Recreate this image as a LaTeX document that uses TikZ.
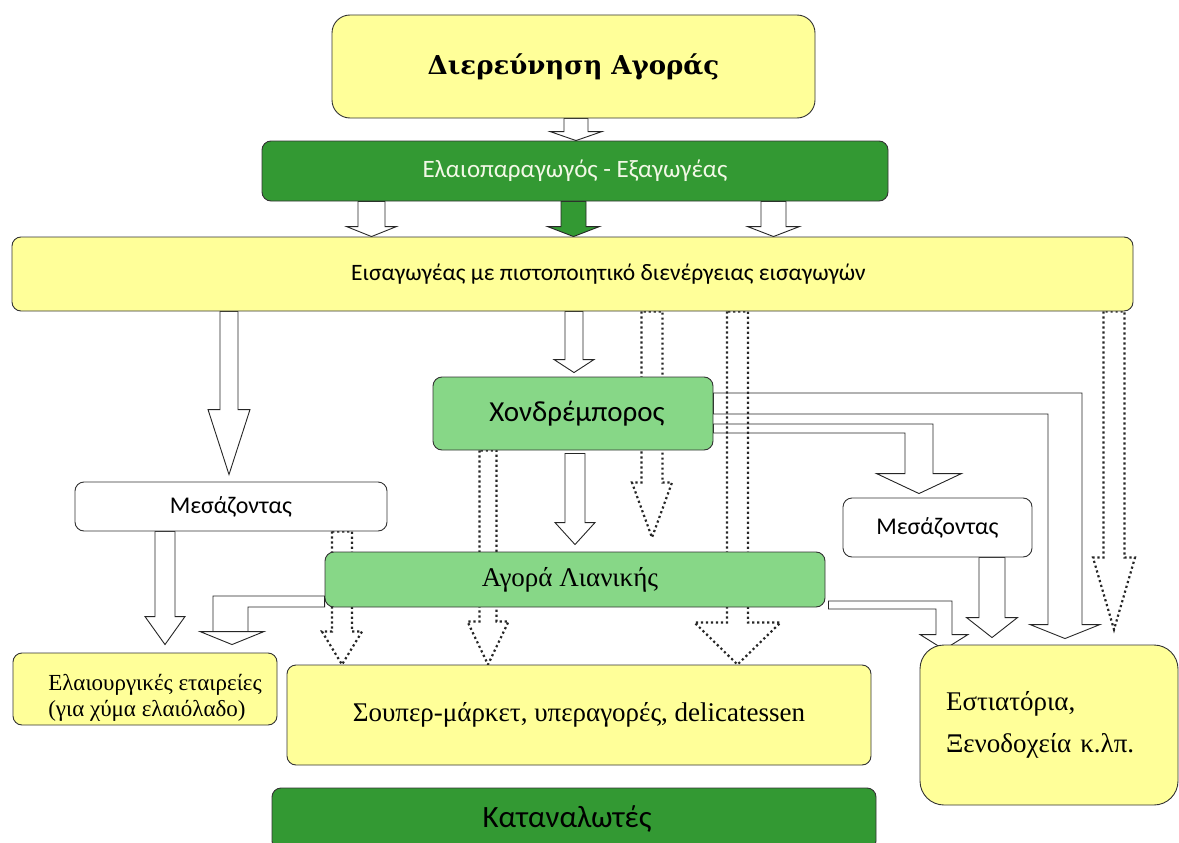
\documentclass[tikz,border=0pt]{standalone}
\usepackage{fontspec}
\setmainfont{Liberation Serif}
\newfontfamily\calib{Carlito}
\newfontfamily\headfont{DejaVu Serif}
\usetikzlibrary{calc}

\definecolor{lemon}{HTML}{FFFF99}
\definecolor{darkleaf}{HTML}{339933}
\definecolor{leaf}{HTML}{87D787}
\definecolor{paletext}{HTML}{F2F8E6}

\pgfdeclarelayer{bg}
\pgfsetlayers{bg,main}

\tikzset{
  box/.style={draw=black!80, line width=0.9pt, rounded corners=9pt, inner sep=0pt},
  ybox/.style={box, fill=lemon},
  dgbox/.style={box, fill=darkleaf},
  lgbox/.style={box, fill=leaf},
  wbox/.style={box, fill=white},
  blk/.style={draw=black!85, fill=white, line width=0.9pt},
  gblk/.style={blk, fill=darkleaf},
  dotblk/.style={draw=black!85, line width=2.2pt, dash pattern=on 2.2pt off 2.8pt}
}

% straight block arrow: from, to, shaft half width, head half width, head length
\newcommand{\blockdown}[6][blk]{%
  \path[#1] let \p1=#2, \p2=#3 in
    (\x1-#4pt,\y1) -- (\x1-#4pt,\y2+#6pt) -- (\x1-#5pt,\y2+#6pt) -- (\x1,\y2)
    -- (\x1+#5pt,\y2+#6pt) -- (\x1+#4pt,\y2+#6pt) -- (\x1+#4pt,\y1) -- cycle;}

% bent block arrow: from (top line), tip, shaft thickness, outer x, inner x, head half width, head length
\newcommand{\elbow}[7]{%
  \path[blk] let \p1=#1, \p2=#2 in
    (\x1,\y1) -- (\x2+#4pt,\y1) -- (\x2+#4pt,\y2+#7pt) -- (\x2+#6pt,\y2+#7pt) -- (\x2,\y2)
    -- (\x2-#6pt,\y2+#7pt) -- (\x2+#5pt,\y2+#7pt) -- (\x2+#5pt,\y1-#3pt) -- (\x1,\y1-#3pt) -- cycle;}

\begin{document}
\begin{tikzpicture}[x=1pt, y=-1pt]
  \useasboundingbox (0,0) rectangle (1179,843);

  % boxes
  \node (survey) [ybox, rounded corners=18pt, minimum width=483, minimum height=103,
    font=\headfont\bfseries\fontsize{26}{31}\selectfont] at (573.5,66.5) {Διερεύνηση Αγοράς};
  \node (grower) [dgbox, minimum width=626, minimum height=60, text=paletext,
    font=\calib\fontsize{25}{30}\selectfont] at (575,171) {Ελαιοπαραγωγός - Εξαγωγέας};
  \node (importer) [ybox, minimum width=1121, minimum height=74,
    font=\calib\fontsize{23.5}{28}\selectfont] at (572.5,274)
    {\hspace*{72pt}Εισαγωγέας με πιστοποιητικό διενέργειας εισαγωγών};
  \node (wholesaler) [lgbox, minimum width=280, minimum height=73,
    font=\calib\fontsize{29}{34}\selectfont] at (573,413.5) {\hspace*{8pt}Χονδρέμπορος};
  \node (brokerL) [wbox, minimum width=312, minimum height=49,
    font=\calib\fontsize{24}{29}\selectfont] at (231,506.5) {Μεσάζοντας};
  \node (brokerR) [wbox, minimum width=189, minimum height=59,
    font=\calib\fontsize{24}{29}\selectfont] at (937.5,527.5) {Μεσάζοντας};
  \node (retail) [lgbox, minimum width=500, minimum height=55,
    font=\fontsize{27}{32}\selectfont] at (575,579.5) {Αγορά Λιανικής\hspace*{10pt}};
  \node (olive) [ybox, minimum width=264, minimum height=72,
    font=\fontsize{23}{26}\selectfont] at (145,689)
    {\hspace*{20pt}\raisebox{-16pt}[0pt][0pt]{\begin{tabular}{@{}l@{}}Ελαιουργικές εταιρείες\\(για χύμα ελαιόλαδο)\end{tabular}}};
  \node (super) [ybox, minimum width=584, minimum height=100,
    font=\fontsize{27}{32}\selectfont] at (579,715) {Σουπερ-μάρκετ, υπεραγορές, delicatessen};
  \node (resto) [ybox, rounded corners=24pt, minimum width=258, minimum height=160,
    text width=206pt, align=left, font=\fontsize{27}{42}\selectfont] at (1049,725)
    {Εστιατόρια,\\Ξενοδοχεία κ.λπ.};
  \node (consumers) [dgbox, minimum width=604, minimum height=62,
    font=\calib\fontsize{31}{36}\selectfont] at (574,819) {Καταναλωτές\hspace*{14pt}};

  % arrows, under the boxes
  \begin{pgfonlayer}{bg}
    \blockdown{(576,0 |- survey.south)}{(576,0 |- grower.north)}{12}{26}{9}
    \blockdown{(371.5,0 |- grower.south)}{(371.5,0 |- importer.north)}{13.5}{25}{10}
    \blockdown[gblk]{(573.5,0 |- grower.south)}{(573.5,0 |- importer.north)}{12.5}{26}{10}
    \blockdown{(773.5,0 |- grower.south)}{(773.5,0 |- importer.north)}{12.5}{26}{10}
    \blockdown{(229,0 |- importer.south)}{($(229,0 |- brokerL.north)+(0,-7)$)}{9}{21}{65}
    \blockdown{(574,0 |- importer.south)}{($(574,0 |- wholesaler.north)+(0,-4)$)}{9}{20}{13}
    \blockdown{(165,0 |- brokerL.south)}{($(165,0 |- olive.north)+(0,-8)$)}{10}{20}{28}
    \blockdown{($(575,0 |- wholesaler.south)+(0,3)$)}{($(575,0 |- retail.north)+(0,-7)$)}{10}{20}{22}
    \blockdown{(992,0 |- brokerR.south)}{($(992,0 |- resto.north)+(0,-7)$)}{13}{25.5}{20}

    \elbow{(wholesaler.east |- 0,393)}{($(1065,0 |- resto.north)+(0,-6)$)}{21}{17}{-17}{35}{14}
    \elbow{(wholesaler.east |- 0,424)}{($(919,0 |- brokerR.north)+(0,-4)$)}{9}{14}{-14}{42.5}{20}
    \elbow{($(retail.east |- 0,601)+(3,0)$)}{($(944,0 |- resto.north)+(0,5)$)}{8}{8}{-8}{24}{15}
    \elbow{(retail.west |- 0,596)}{($(232,0 |- olive.north)+(0,-8)$)}{11}{-19}{16}{32}{13}

    \blockdown[dotblk]{(652,0 |- importer.south)}{($(652,0 |- retail.north)+(0,-14)$)}{10.5}{20}{55}
    \blockdown[dotblk]{(737.5,0 |- importer.south)}{(737.5,0 |- super.north)}{10.5}{43}{42}
    \blockdown[dotblk]{(1114,0 |- importer.south)}{($(1114,0 |- resto.north)+(0,-15)$)}{10.5}{21}{72}
    \blockdown[dotblk]{(488,0 |- wholesaler.south)}{(488,0 |- super.north)}{8.5}{20.5}{43}
    \blockdown[dotblk]{(342,0 |- brokerL.south)}{(342,0 |- super.north)}{10}{20}{33}
  \end{pgfonlayer}
\end{tikzpicture}
\end{document}
